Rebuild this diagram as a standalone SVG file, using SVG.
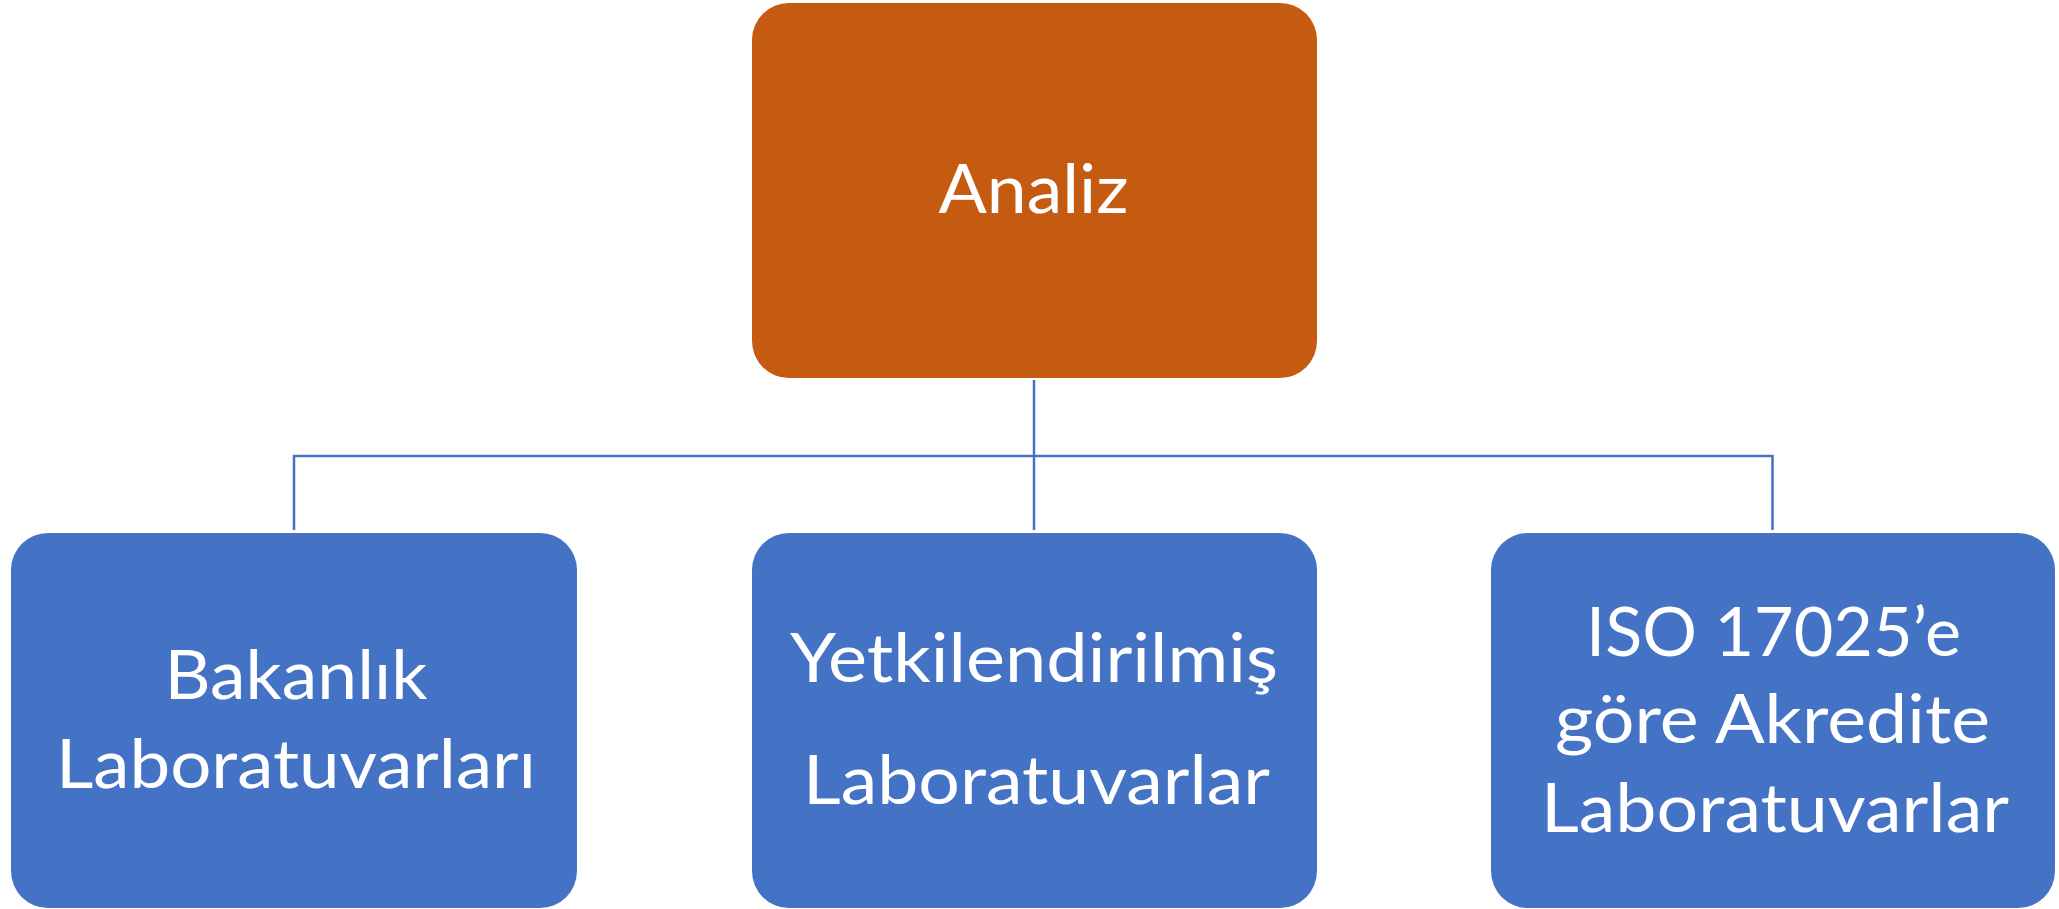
<svg xmlns="http://www.w3.org/2000/svg" width="2059" height="909" viewBox="0 0 2059 909">
<style>
.top{fill:#C55A11;}
.child{fill:#4472C4;}
.lbl{font-family:Lato,"Open Sans","Liberation Sans",sans-serif;font-size:68px;fill:#FFFFFF;text-anchor:middle;}
.conn{fill:none;stroke:#4472C4;stroke-width:2.5;}
</style>
<rect width="2059" height="909" fill="#FFFFFF"/>
<g id="connectors">
<path class="conn" d="M1034,380 V530"/>
<path class="conn" d="M294,530 V456 H1772.5 V530"/>
</g>
<g id="analiz">
<rect class="top" x="752" y="3" width="565" height="375" rx="37" ry="37"/>
<text class="lbl" x="1033.5" y="213" textLength="190" lengthAdjust="spacingAndGlyphs">Analiz</text>
</g>
<g id="bakanlik">
<rect class="child" x="11" y="533" width="566" height="375" rx="37" ry="37"/>
<text class="lbl" x="296" y="699" textLength="263" lengthAdjust="spacingAndGlyphs">Bakanlık</text>
<text class="lbl" x="296" y="788" textLength="480" lengthAdjust="spacingAndGlyphs">Laboratuvarları</text>
</g>
<g id="yetkilendirilmis">
<rect class="child" x="752" y="533" width="565" height="375" rx="37" ry="37"/>
<text class="lbl" x="1034" y="682" textLength="488" lengthAdjust="spacingAndGlyphs">Yetkilendirilmiş</text>
<text class="lbl" x="1036.5" y="804" textLength="467" lengthAdjust="spacingAndGlyphs">Laboratuvarlar</text>
</g>
<g id="iso17025">
<rect class="child" x="1491" y="533" width="564" height="375" rx="37" ry="37"/>
<text class="lbl" x="1773.5" y="656" textLength="375" lengthAdjust="spacingAndGlyphs">ISO 17025’e</text>
<text class="lbl" x="1772.5" y="743" textLength="435" lengthAdjust="spacingAndGlyphs">göre Akredite</text>
<text class="lbl" x="1775" y="832" textLength="468" lengthAdjust="spacingAndGlyphs">Laboratuvarlar</text>
</g>
</svg>
